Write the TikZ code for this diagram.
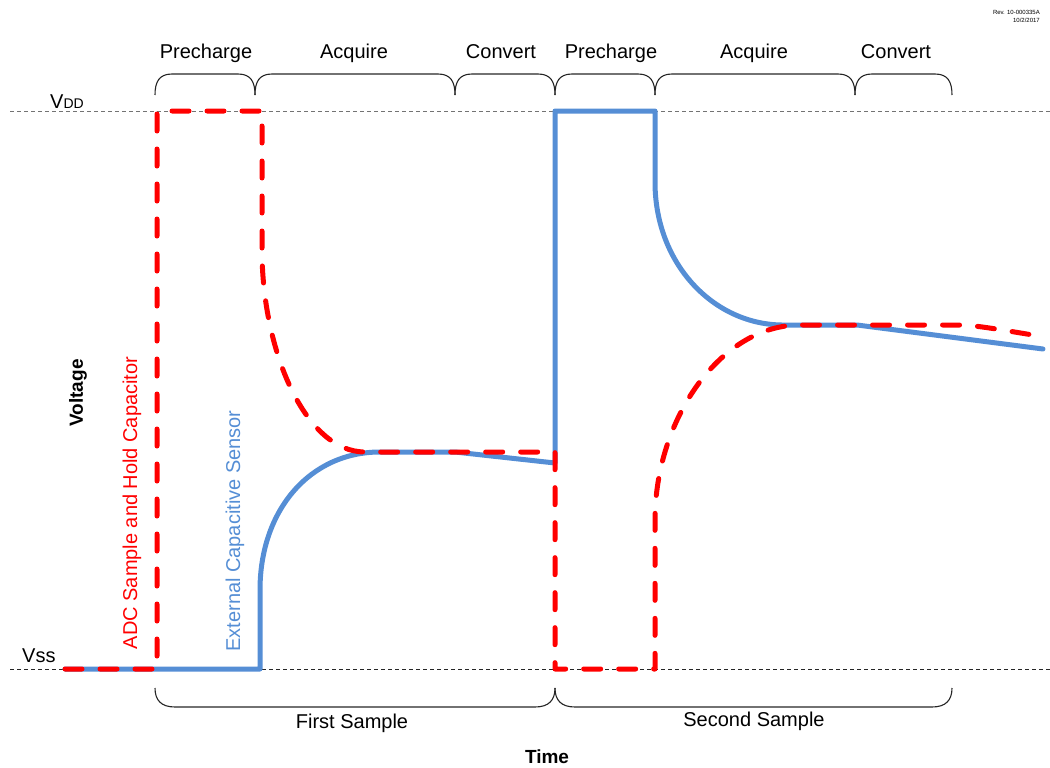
\documentclass[tikz,border=0pt]{standalone}
\usepackage{fontspec}
\setmainfont{Liberation Sans}
\definecolor{sensorblue}{RGB}{85,142,213}
\definecolor{adcred}{RGB}{255,0,0}
\begin{document}
\begin{tikzpicture}[x=1pt,y=-1pt,
  lvl/.style={dash pattern=on 4pt off 3pt, line width=0.9pt},
  bracepath/.style={line width=1.1pt, black!85},
  blueline/.style={sensorblue, line width=5pt, line join=round, line cap=round},
  redline/.style={adcred, line width=5pt, dash pattern=on 17pt off 18pt, line cap=round, line join=round},
  lbl/.style={font=\fontsize{20}{24}\selectfont, inner sep=0pt},
  axis/.style={font=\fontsize{19}{23}\selectfont\bfseries, inner sep=0pt}]
\useasboundingbox (0,0) rectangle (1050,768);
% revision
\node[font=\fontsize{6}{8}\selectfont, align=right, anchor=north east, inner sep=0pt] (rev) at (1040,10) {Rev. 10-000335A\\10/2/2017};
% level lines
\draw[lvl, black!55] (10,111) -- (1050,111);
\draw[lvl, black!85] (10,669) -- (1050,669);
\node[anchor=base west, inner sep=0pt] (vdd) at (50,109) {{\fontsize{20}{24}\selectfont V}{\fontsize{14}{16}\selectfont DD}};
\node[anchor=base west, inner sep=0pt] (vss) at (22,662) {\fontsize{20}{24}\selectfont Vss};
% top braces
\foreach \a/\b in {155/255,255/455,455/555,555/655,655/855,855/952}
  \draw[bracepath] (\a,95) .. controls (\a,82) and (\a+4,74) .. (\a+17,74) -- (\b-17,74) .. controls (\b-4,74) and (\b,82) .. (\b,95);
% bottom braces
\foreach \a/\b in {155/555,555/952}
  \draw[bracepath] (\a,688) .. controls (\a,700) and (\a+6,707) .. (\a+20,707) -- (\b-20,707) .. controls (\b-6,707) and (\b,700) .. (\b,688);
% phase labels
\node[lbl, anchor=base] (p1) at (206,59) {Precharge};
\node[lbl, anchor=base] (a1) at (354,59) {Acquire};
\node[lbl, anchor=base] (c1) at (501,59) {Convert};
\node[lbl, anchor=base] (p2) at (611,59) {Precharge};
\node[lbl, anchor=base] (a2) at (754,59) {Acquire};
\node[lbl, anchor=base] (c2) at (896,59) {Convert};
\node[lbl, anchor=base] (s1) at (352,728) {First Sample};
\node[lbl, anchor=base] (s2) at (754,726) {Second Sample};
% axis labels
\node[axis, rotate=90] (volt) at (78,393) {Voltage};
\node[axis] (time) at (547,757) {Time};
% curve labels
\node[lbl, rotate=90, text=adcred] (adc) at (132,503) {ADC Sample and Hold Capacitor};
\node[lbl, rotate=90, text=sensorblue] (ext) at (235,531) {External Capacitive Sensor};
% blue: external sensor
\draw[blueline] (65,669) -- (260,669) -- (260,590)
  .. controls (260,510) and (310,452) .. (380,452) -- (455,452) -- (555,463)
  -- (555,111) -- (655,111) -- (655,182)
  .. controls (655,265) and (715,326) .. (785,325) -- (857,325) -- (1043,349);
% red: ADC sample and hold
\draw[redline] (65,669) -- (157,669) -- (157,111) -- (262,111) -- (262,250)
  .. controls (262,350) and (305,452) .. (365,452) -- (555,452) -- (555,669)
  -- (655,669) -- (655,520)
  .. controls (655,420) and (720,325) .. (800,325) -- (955,325)
  .. controls (975,325) and (990,328) .. (1045,337);
\end{tikzpicture}
\end{document}
